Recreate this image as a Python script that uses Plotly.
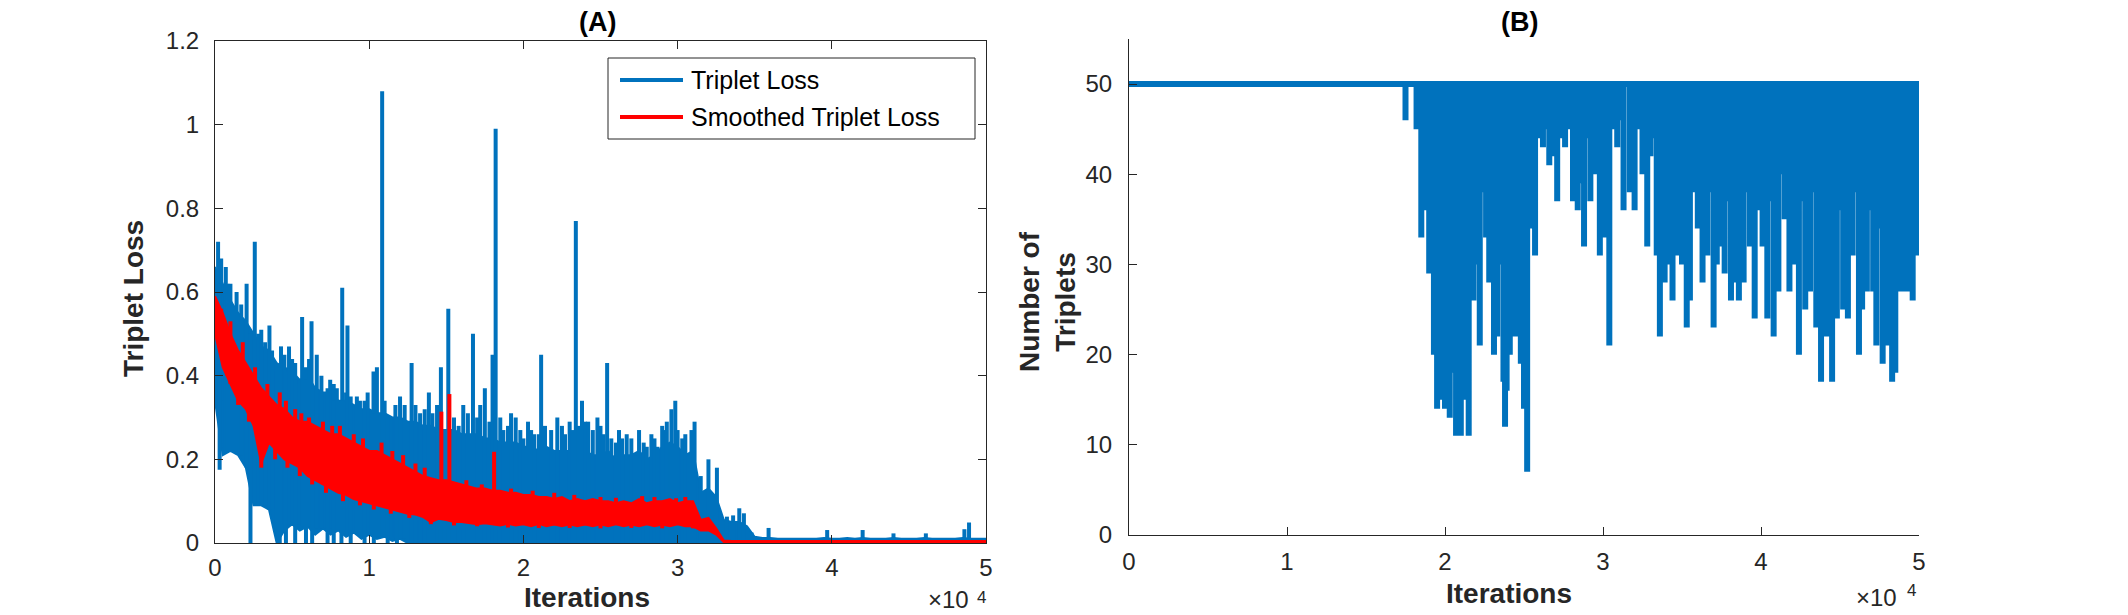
import plotly.graph_objects as go

W, H = 2128, 615

# ---------------- Panel A data ----------------
# Iterations at which the envelope of the dense loss curves was read
env_iter = list(range(0, 50001, 500))

# Upper edge of the dense raw-loss band
loss_top = [
    0.66, 0.62, 0.58, 0.55, 0.53, 0.50, 0.47, 0.46, 0.43, 0.42,
    0.41, 0.39, 0.40, 0.37, 0.36, 0.36, 0.34, 0.34, 0.33, 0.32,
    0.32, 0.31, 0.31, 0.30, 0.30, 0.29, 0.29, 0.28, 0.28, 0.27,
    0.27, 0.27, 0.26, 0.26, 0.26, 0.25, 0.25, 0.24, 0.24, 0.24,
    0.23, 0.23, 0.22, 0.23, 0.22, 0.22, 0.22, 0.21, 0.22, 0.21,
    0.21, 0.22, 0.20, 0.21, 0.21, 0.22, 0.20, 0.21, 0.23, 0.24,
    0.23, 0.21, 0.22, 0.12, 0.13, 0.11, 0.055, 0.05, 0.05, 0.04,
    0.015, 0.012, 0.012, 0.01, 0.01, 0.01, 0.01, 0.01, 0.01, 0.012,
    0.01, 0.01, 0.012, 0.01, 0.012, 0.01, 0.01, 0.01, 0.012, 0.01,
    0.01, 0.01, 0.012, 0.01, 0.01, 0.01, 0.01, 0.012, 0.01, 0.01,
    0.01,
]
# Lower edge of the dense raw-loss band
loss_bottom = [
    0.34, 0.21, 0.22, 0.21, 0.18, 0.09, 0.09, 0.08, 0.0, 0.03,
    0.045, 0.03, 0.04, 0.02, 0.035, 0.02, 0.03, 0.015, 0.025, 0.01,
    0.02, 0.01, 0.015, 0.005, 0.01, 0.0, 0.0, 0.0, 0.0, 0.0,
    0.0, 0.0, 0.0, 0.0, 0.0, 0.0, 0.0, 0.0, 0.0, 0.0,
    0.0, 0.0, 0.0, 0.0, 0.0, 0.0, 0.0, 0.0, 0.0, 0.0,
    0.0, 0.0, 0.0, 0.0, 0.0, 0.0, 0.0, 0.0, 0.0, 0.0,
    0.0, 0.0, 0.0, 0.0, 0.0, 0.0, 0.0, 0.0, 0.0, 0.0,
    0.0, 0.0, 0.0, 0.0, 0.0, 0.0, 0.0, 0.0, 0.0, 0.0,
    0.0, 0.0, 0.0, 0.0, 0.0, 0.0, 0.0, 0.0, 0.0, 0.0,
    0.0, 0.0, 0.0, 0.0, 0.0, 0.0, 0.0, 0.0, 0.0, 0.0,
    0.0,
]
# Peaks of the raw loss that rise above the band
peak_iter = [
    200, 400, 700, 800, 1000, 1400, 1700, 2050, 2580, 2800,
    3000, 3250, 3530, 3700, 4000, 4280, 4500, 4800, 5000, 5200,
    5400, 5650, 5900, 6100, 6260, 6600, 6900, 7300, 7470, 7700,
    7900, 8250, 8500, 8590, 8800, 9000, 9200, 9400, 9700, 9900,
    10280, 10500, 10840, 11000, 11400, 11700, 12000, 12300, 12750, 13000,
    13300, 13600, 13870, 14100, 14400, 14650, 15130, 15500, 15800, 16100,
    16400, 16730, 17000, 17200, 17500, 17800, 18000, 18200, 18500, 18700,
    19000, 19200, 19500, 19800, 20000, 20300, 20500, 20700, 21000, 21150,
    21400, 21800, 22200, 22500, 22700, 23000, 23200, 23400, 23600, 23800,
    24000, 24200, 24500, 24800, 25000, 25200, 25430, 25700, 26000, 26200,
    26400, 26700, 27000, 27200, 27500, 27800, 28000, 28300, 28500, 28700,
    29000, 29100, 29300, 29600, 29850, 30000, 30300, 30500, 30700, 30900,
    31100, 31500, 32000, 32550, 33200, 33600, 34000, 34300, 34800, 35900,
    39700, 42000, 44000, 46100, 48600, 48900,
]
peak_val = [
    0.72, 0.68, 0.66, 0.62, 0.62, 0.60, 0.57, 0.62, 0.72, 0.50,
    0.51, 0.48, 0.52, 0.46, 0.41, 0.47, 0.45, 0.47, 0.44, 0.43,
    0.38, 0.54, 0.42, 0.44, 0.53, 0.45, 0.40, 0.37, 0.39, 0.38,
    0.37, 0.61, 0.36, 0.52, 0.35, 0.33, 0.35, 0.34, 0.34, 0.36,
    0.41, 0.42, 1.08, 0.34, 0.30, 0.33, 0.35, 0.33, 0.43, 0.33,
    0.31, 0.32, 0.36, 0.31, 0.33, 0.42, 0.56, 0.30, 0.28, 0.33,
    0.31, 0.50, 0.30, 0.33, 0.37, 0.29, 0.45, 0.99, 0.30, 0.27,
    0.28, 0.31, 0.30, 0.27, 0.25, 0.29, 0.27, 0.26, 0.26, 0.45,
    0.28, 0.27, 0.30, 0.28, 0.26, 0.29, 0.27, 0.77, 0.28, 0.34,
    0.29, 0.29, 0.27, 0.30, 0.28, 0.26, 0.43, 0.25, 0.24, 0.27,
    0.25, 0.26, 0.25, 0.21, 0.27, 0.24, 0.23, 0.26, 0.25, 0.23,
    0.28, 0.27, 0.29, 0.32, 0.34, 0.27, 0.25, 0.26, 0.21, 0.27,
    0.29, 0.16, 0.20, 0.18, 0.063, 0.066, 0.083, 0.071, 0.025, 0.036,
    0.031, 0.031, 0.023, 0.023, 0.033, 0.049,
]
# Troughs of the raw loss that reach below the band
trough_iter = [300, 2300, 4200, 4600, 5200, 5900, 6300, 7300, 7700, 8200,
               8800, 9700, 10300, 11200, 11800]
trough_val = [0.175, 0.0, 0.0, 0.0, 0.0, 0.0, 0.0, 0.0, 0.0, 0.0,
              0.0, 0.0, 0.0, 0.0, 0.0]

# Smoothed triplet loss band
smooth_top = [
    0.59, 0.55, 0.50, 0.46, 0.43, 0.40, 0.37, 0.35, 0.33, 0.32,
    0.30, 0.29, 0.29, 0.28, 0.27, 0.26, 0.26, 0.25, 0.24, 0.23,
    0.22, 0.22, 0.21, 0.20, 0.19, 0.18, 0.17, 0.16, 0.155, 0.15,
    0.15, 0.145, 0.14, 0.135, 0.13, 0.13, 0.125, 0.125, 0.12, 0.12,
    0.115, 0.115, 0.11, 0.11, 0.105, 0.11, 0.10, 0.105, 0.10, 0.105,
    0.10, 0.10, 0.095, 0.10, 0.095, 0.105, 0.095, 0.10, 0.10, 0.105,
    0.095, 0.10, 0.10, 0.055, 0.06, 0.035, 0.006, 0.005, 0.005, 0.005,
    0.005, 0.005, 0.005, 0.005, 0.005, 0.005, 0.005, 0.005, 0.005, 0.005,
    0.005, 0.005, 0.005, 0.005, 0.005, 0.005, 0.005, 0.005, 0.005, 0.005,
    0.005, 0.005, 0.005, 0.005, 0.005, 0.005, 0.005, 0.005, 0.005, 0.005,
    0.005,
]
smooth_bottom = [
    0.50, 0.42, 0.38, 0.34, 0.32, 0.28, 0.19, 0.24, 0.22, 0.20,
    0.19, 0.18, 0.16, 0.15, 0.14, 0.13, 0.12, 0.115, 0.105, 0.10,
    0.095, 0.09, 0.085, 0.08, 0.075, 0.07, 0.068, 0.062, 0.05, 0.058,
    0.055, 0.05, 0.05, 0.048, 0.045, 0.047, 0.045, 0.042, 0.046, 0.042,
    0.045, 0.04, 0.046, 0.04, 0.044, 0.04, 0.045, 0.04, 0.044, 0.04,
    0.045, 0.04, 0.045, 0.04, 0.044, 0.04, 0.045, 0.04, 0.044, 0.04,
    0.045, 0.04, 0.04, 0.03, 0.03, 0.02, 0.002, 0.002, 0.002, 0.002,
    0.002, 0.002, 0.002, 0.002, 0.002, 0.002, 0.002, 0.002, 0.002, 0.002,
    0.002, 0.002, 0.002, 0.002, 0.002, 0.002, 0.002, 0.002, 0.002, 0.002,
    0.002, 0.002, 0.002, 0.002, 0.002, 0.002, 0.002, 0.002, 0.002, 0.002,
    0.002,
]
smooth_peak_iter = [
    400, 1000, 1800, 2600, 3400, 4200, 4600, 5200, 5600, 6100,
    7000, 7600, 8100, 9000, 9600, 10800, 11500, 12200, 13000, 13600,
    14680, 15200, 16300, 17300, 18100, 19200, 20600, 22000, 23300, 25000,
    26000, 27700, 28500, 29900, 30500,
]
smooth_peak_val = [
    0.56, 0.53, 0.48, 0.42, 0.38, 0.36, 0.34, 0.32, 0.31, 0.30,
    0.29, 0.28, 0.28, 0.26, 0.25, 0.24, 0.22, 0.21, 0.19, 0.18,
    0.314, 0.356, 0.15, 0.14, 0.218, 0.13, 0.125, 0.12, 0.115, 0.11,
    0.108, 0.112, 0.11, 0.107, 0.11,
]
smooth_trough_iter = [
    800, 1500, 2200, 3000, 3900, 4700, 5500, 6300, 7200, 8300,
    9400, 10300, 11400, 12600, 14000, 15500, 17000, 19000, 21000, 23000,
    25000, 27000, 29000, 31000,
]
smooth_trough_val = [
    0.40, 0.33, 0.29, 0.18, 0.20, 0.18, 0.16, 0.14, 0.12, 0.10,
    0.09, 0.08, 0.07, 0.06, 0.045, 0.042, 0.04, 0.037, 0.036, 0.036,
    0.035, 0.036, 0.035, 0.035,
]

# ---------------- Panel B data ----------------
triplet_max = 50
dip_iter = [
    17500, 18200, 18500, 18750, 19000, 19300, 19500, 19700, 20000, 20300,
    20500, 20700, 21000, 21300, 21500, 21800, 22000, 22200, 22400, 22600,
    22800, 23100, 23300, 23500, 23700, 23800, 23900, 24100, 24400, 24700,
    24800, 25000, 25200, 25400, 25700, 26000, 26200, 26400, 26600, 26800,
    27100, 27300, 27500, 27600, 27850, 28100, 28400, 28600, 28800, 29000,
    29200, 29500, 29800, 30100, 30400, 30600, 30900, 31100, 31300, 31700,
    32000, 32200, 32500, 32800, 33000, 33200, 33400, 33600, 33900, 34200,
    34400, 34700, 35000, 35300, 35500, 35750, 36000, 36300, 36600, 36800,
    37000, 37200, 37500, 37700, 37900, 38100, 38400, 38600, 38900, 39100,
    39300, 39600, 39800, 40100, 40400, 40600, 40800, 41100, 41400, 41500,
    41800, 42100, 42400, 42600, 42800, 43100, 43300, 43500, 43800, 44000,
    44300, 44500, 44800, 45000, 45200, 45500, 45800, 46000, 46200, 46400,
    46700, 46900, 47100, 47300, 47500, 47700, 48000, 48300, 48500, 48800,
    49100, 49400, 49600, 49900,
]
dip_count = [
    46, 45, 33, 36, 29, 20, 14, 15, 14, 13,
    18, 11, 11, 15, 11, 26, 30, 21, 38, 33,
    28, 20, 22, 30, 17, 12, 16, 20, 22, 22,
    19, 14, 7, 34, 31, 44, 43, 45, 41, 42,
    37, 44, 45, 43, 45, 37, 36, 39, 32, 44,
    37, 40, 31, 33, 21, 45, 43, 46, 36, 38,
    36, 45, 40, 32, 42, 44, 31, 22, 28, 30,
    26, 31, 30, 23, 26, 38, 34, 28, 31, 38,
    23, 30, 32, 29, 37, 26, 28, 26, 28, 38,
    32, 24, 36, 32, 24, 37, 22, 27, 40, 35,
    27, 30, 20, 37, 25, 27, 38, 23, 17, 22,
    22, 17, 24, 36, 25, 24, 31, 38, 20, 25,
    27, 36, 27, 21, 34, 19, 21, 17, 18, 27,
    27, 27, 26, 31,
]

BLUE = "#0072BD"
RED = "#FF0000"
AX = "#262626"
FONT = "Liberation Sans, Arial, Helvetica, sans-serif"
STEP = 500
NK = len(env_iter)


def band(top, bottom):
    return env_iter + env_iter[::-1], list(top) + list(bottom)[::-1]


def spikes(xs, vs, bottom):
    # vertical strokes rising from inside the band up to each peak value
    X, Y = [], []
    for x, v in zip(xs, vs):
        i = min(x // STEP, NK - 2)
        foot = max(bottom[i], bottom[i + 1])
        X += [x, x, None]
        Y += [foot, v, None]
    return X, Y


def troughs(xs, vs, top):
    # vertical strokes falling from inside the band down to each trough value
    X, Y = [], []
    for x, v in zip(xs, vs):
        i = min(x // STEP, NK - 2)
        head = min(top[i], top[i + 1])
        X += [x, x, None]
        Y += [head, v, None]
    return X, Y


fig = go.Figure()
bx_, by_ = band(loss_top, loss_bottom)
fig.add_trace(go.Scatter(x=bx_, y=by_, mode="lines", fill="toself", fillcolor=BLUE,
                         line=dict(color=BLUE, width=2), name="Triplet Loss",
                         showlegend=False, xaxis="x", yaxis="y"))
px_, py_ = spikes(peak_iter, peak_val, loss_bottom)
fig.add_trace(go.Scatter(x=px_, y=py_, mode="lines", line=dict(color=BLUE, width=4),
                         showlegend=False, xaxis="x", yaxis="y"))
tx_, ty_ = troughs(trough_iter, trough_val, loss_top)
fig.add_trace(go.Scatter(x=tx_, y=ty_, mode="lines", line=dict(color=BLUE, width=4),
                         showlegend=False, xaxis="x", yaxis="y"))

sx_, sy_ = band(smooth_top, smooth_bottom)
fig.add_trace(go.Scatter(x=sx_, y=sy_, mode="lines", fill="toself", fillcolor=RED,
                         line=dict(color=RED, width=2), name="Smoothed Triplet Loss",
                         showlegend=False, xaxis="x", yaxis="y"))
spx, spy = spikes(smooth_peak_iter, smooth_peak_val, smooth_bottom)
fig.add_trace(go.Scatter(x=spx, y=spy, mode="lines", line=dict(color=RED, width=4),
                         showlegend=False, xaxis="x", yaxis="y"))
stx, sty = troughs(smooth_trough_iter, smooth_trough_val, smooth_top)
fig.add_trace(go.Scatter(x=stx, y=sty, mode="lines", line=dict(color=RED, width=4),
                         showlegend=False, xaxis="x", yaxis="y"))

# Number of triplets: stays at the maximum except at the dip iterations
nx, ny = [0], [triplet_max]
for xd, yd in zip(dip_iter, dip_count):
    nx += [xd, xd, xd]
    ny += [triplet_max, yd, triplet_max]
nx.append(50000)
ny.append(triplet_max)
fig.add_trace(go.Scatter(x=nx, y=ny, mode="lines", name="Number of Triplets",
                         line=dict(color=BLUE, width=6, simplify=False),
                         showlegend=False, xaxis="x2", yaxis="y2"))


def px(x):
    return x / W


def py(y):
    return 1 - y / H


tickfont = dict(family=FONT, size=24, color=AX)
common = dict(showgrid=False, zeroline=False, showline=True, linecolor=AX,
              linewidth=1, ticks="inside", ticklen=8, tickwidth=1,
              tickcolor=AX, tickfont=tickfont, automargin=False)

xt = [0, 10000, 20000, 30000, 40000, 50000]
xtl = ["0", "1", "2", "3", "4", "5"]

fig.update_layout(
    template="none",
    width=W, height=H,
    margin=dict(l=0, r=0, t=0, b=0, pad=0),
    paper_bgcolor="white", plot_bgcolor="white",
    xaxis=dict(domain=[px(215), px(986)], range=[0, 50000], tickvals=xt,
               ticktext=xtl, anchor="y", mirror="allticks",
               ticklabelstandoff=3, **common),
    yaxis=dict(domain=[py(543), py(41)], range=[0, 1.2],
               tickvals=[0, 0.2, 0.4, 0.6, 0.8, 1.0, 1.2],
               ticktext=["0", "0.2", "0.4", "0.6", "0.8", "1", "1.2"],
               anchor="x", mirror="allticks", ticklabelstandoff=10, **common),
    xaxis2=dict(domain=[px(1129), px(1919)], range=[0, 50000], tickvals=xt,
                ticktext=xtl, anchor="y2", ticklabelstandoff=5, **common),
    yaxis2=dict(domain=[py(535), py(39)], range=[0, 55],
                tickvals=[0, 10, 20, 30, 40, 50],
                ticktext=["0", "10", "20", "30", "40", "50"],
                anchor="x2", ticklabelstandoff=11, **common),
)

ann = []


def text(x, y, s, size, bold=False, angle=0, color="#000000", xanchor="center",
         yanchor="middle"):
    ann.append(dict(x=px(x), y=py(y), xref="paper", yref="paper",
                    text=("<b>%s</b>" % s) if bold else s, showarrow=False,
                    textangle=angle, xanchor=xanchor, yanchor=yanchor,
                    font=dict(family=FONT, size=size, color=color)))


text(597, 22, "(A)", 27, bold=True)
text(1519, 22, "(B)", 27, bold=True)
text(587, 615, "Iterations", 28, bold=True, color=AX, yanchor="bottom")
text(1509, 611, "Iterations", 28, bold=True, color=AX, yanchor="bottom")
text(133, 299, "Triplet Loss", 28, bold=True, angle=-90, color=AX)
text(1048, 302, "Number of<br>Triplets", 28, bold=True, angle=-90, color=AX)
text(971, 615, "×10", 24, color=AX, xanchor="right", yanchor="bottom")
text(981, 597, "4", 17, color=AX)
text(1899, 613, "×10", 24, color=AX, xanchor="right", yanchor="bottom")
text(1911, 590, "4", 17, color=AX)

# legend box
leg_items = [("Triplet Loss", BLUE, 80), ("Smoothed Triplet Loss", RED, 117)]
shapes = [dict(type="rect", xref="paper", yref="paper", x0=px(608), x1=px(975),
               y0=py(139), y1=py(58), line=dict(color=AX, width=1),
               fillcolor="white", layer="above")]
for label, col, yy in leg_items:
    shapes.append(dict(type="line", xref="paper", yref="paper", x0=px(620),
                       x1=px(683), y0=py(yy), y1=py(yy),
                       line=dict(color=col, width=4), layer="above"))
    text(689, yy, label, 25, xanchor="left")

fig.update_layout(annotations=ann, shapes=shapes)
fig.write_html("out.html")
